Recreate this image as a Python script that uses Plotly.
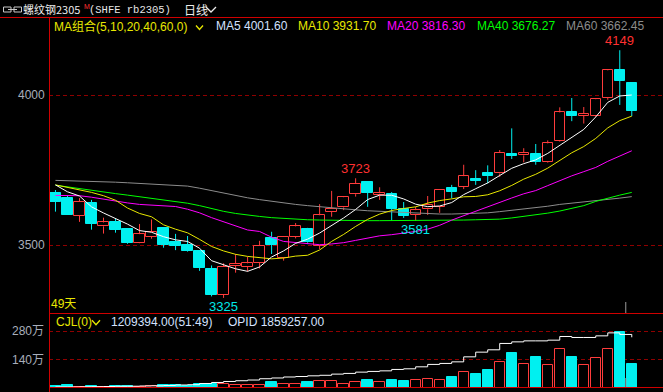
import plotly.graph_objects as go

# ---------------- data ----------------
opens  = [3675, 3657, 3598, 3641, 3563, 3577, 3554, 3509, 3529, 3557, 3511, 3501, 3481,
          3422, 3336, 3431, 3429, 3442, 3523, 3458, 3529, 3554, 3499, 3611, 3626, 3670,
          3710, 3666, 3670, 3622, 3602, 3620, 3628, 3692, 3695, 3721, 3740, 3739, 3805,
          3799, 3804, 3778, 3848, 3942, 3931, 3931, 3991, 4083, 4039]
highs  = [3684, 3664, 3657, 3651, 3592, 3588, 3556, 3571, 3586, 3560, 3538, 3531, 3484,
          3433, 3440, 3471, 3462, 3515, 3545, 3531, 3574, 3558, 3637, 3681, 3664, 3723,
          3712, 3693, 3677, 3644, 3628, 3664, 3686, 3701, 3768, 3750, 3766, 3817, 3889,
          3823, 3837, 3849, 3959, 3990, 3960, 3990, 4084, 4149, 4043]
lows   = [3612, 3601, 3578, 3552, 3539, 3542, 3505, 3507, 3522, 3492, 3484, 3479, 3415,
          3330, 3325, 3409, 3413, 3423, 3471, 3449, 3523, 3504, 3487, 3595, 3617, 3662,
          3628, 3651, 3582, 3591, 3581, 3601, 3608, 3656, 3687, 3701, 3706, 3728, 3787,
          3776, 3768, 3775, 3845, 3913, 3905, 3928, 3984, 3967, 3930]
closes = [3644, 3602, 3644, 3572, 3576, 3551, 3509, 3537, 3544, 3502, 3499, 3482, 3425,
          3336, 3428, 3438, 3440, 3498, 3502, 3529, 3563, 3510, 3600, 3622, 3660, 3704,
          3675, 3673, 3621, 3598, 3617, 3634, 3684, 3678, 3730, 3715, 3731, 3807, 3798,
          3807, 3778, 3839, 3942, 3931, 3937, 3986, 4082, 4048, 3947]

# volume (万手) and open interest (万手, own scale)
volume = [8, 13, 6, 11, 7, 8, 11, 7, 8, 14, 14, 11, 19, 19, 22, 17, 17, 17, 29, 22, 22, 29, 36,
          35.6, 20.8, 30.7, 42, 30.7, 42, 37, 40.6, 45.5, 40.6, 56.9, 80, 71.7, 86.6, 129.6,
          175.6, 119.7, 155.8, 114.8, 194, 155.8, 114.8, 149.4, 194, 274.6, 120.94]
open_interest = [100.9, 100.9, 101.2, 101.4, 101.7, 102.1, 102.2, 102.6, 102.9, 103.4, 104.3,
                 104.8, 106.8, 108.6, 110.3, 111.6, 112.8, 115.0, 116.3, 118.0, 118.8, 120.0,
                 120.9, 122.9, 124.1, 126.3, 127.5, 128.5, 130.9, 132.0, 135.4, 139.5, 141.2,
                 143.9, 152.5, 160.5, 164.5, 175.4, 178.1, 179.8, 179.8, 181.0, 187.3, 185.6,
                 185.6, 188.4, 193.5, 190.8, 185.93]

# moving-average values before enough bars exist in this window
ma5_head  = [3701, 3678, 3664, 3628]
ma10_head = [3701, 3693, 3686, 3676, 3665, 3650, 3624, 3606, 3595]
ma20_head = [3666, 3666, 3665, 3660, 3653, 3647, 3641, 3636, 3634, 3631, 3629, 3620, 3608,
             3592, 3578, 3565, 3551, 3546, 3527]
ma40 = [3700, 3694, 3689, 3684, 3678, 3672, 3667, 3662, 3657, 3652, 3646, 3640, 3632, 3622,
        3613, 3606, 3600, 3596, 3592, 3589, 3587, 3585, 3584, 3583, 3582, 3582, 3582, 3582,
        3582, 3582, 3582, 3582, 3583, 3583, 3584, 3585, 3586, 3587, 3591, 3596, 3602, 3607,
        3614, 3622, 3632, 3646, 3657, 3667, 3676]
ma60 = [3716, 3715, 3715, 3714, 3712, 3710, 3708, 3706, 3705, 3703, 3700, 3697, 3690, 3682,
        3674, 3665, 3658, 3652, 3646, 3641, 3636, 3632, 3628, 3624, 3620, 3618, 3615, 3613,
        3611, 3609, 3607, 3605, 3604, 3604, 3605, 3606, 3608, 3612, 3616, 3620, 3626, 3630,
        3636, 3640, 3643, 3647, 3651, 3657, 3662]

ma_legend = [("MA5", "4001.60", "#d4e2ff"), ("MA10", "3931.70", "#e8e800"),
             ("MA20", "3816.30", "#ff00ff"), ("MA40", "3676.27", "#00ff00"),
             ("MA60", "3662.45", "#8c8c8c")]
label_high_idx = [25, 47]
label_low_idx = [14, 30]
price_ticks = [3500, 4000]
vol_ticks = [140, 280]
vol_tick_text = ["140万", "280万"]
n_days = len(closes)

# ---------------- helpers ----------------
def moving(head, n):
    out = list(head)
    for i in range(len(head), len(closes)):
        out.append(sum(closes[i - n + 1:i + 1]) / n)
    return out

ma5 = moving(ma5_head, 5)
ma10 = moving(ma10_head, 10)
ma20 = moving(ma20_head, 20)

W, H = 663, 392
L, T, B = 49, 17, 4
PW, PH = W - L, H - T - B
def px(x):
    return (x - L) / PW
def py(y):
    return (H - B - y) / PH

RED = "#ff3c3c"
CYAN = "#00f0f0"
BORDER = "#d00000"
GRID = "#8f0000"

idx = list(range(n_days))
up = [c >= o for o, c in zip(opens, closes)]

fig = go.Figure()

# wicks (split so that hollow bodies stay hollow)
for flag, col in ((True, RED), (False, CYAN)):
    xs, ys = [], []
    for i in idx:
        if up[i] != flag:
            continue
        top, bot = max(opens[i], closes[i]), min(opens[i], closes[i])
        xs += [i, i, None, i, i, None]
        ys += [highs[i], top, None, bot, lows[i], None]
    fig.add_trace(go.Scatter(x=xs, y=ys, mode="lines", line=dict(color=col, width=1),
                             hoverinfo="skip", showlegend=False))

# bodies
for flag, fill, col in ((True, "#000000", RED), (False, CYAN, CYAN)):
    xi = [i for i in idx if up[i] == flag]
    fig.add_trace(go.Bar(
        x=xi,
        base=[min(opens[i], closes[i]) for i in xi],
        y=[max(abs(closes[i] - opens[i]), 0.8) for i in xi],
        width=0.86, marker=dict(color=fill, line=dict(color=col, width=1)),
        showlegend=False, hoverinfo="skip"))

# moving averages
for vals, col in ((ma60, "#8c8c8c"), (ma40, "#00ff00"), (ma20, "#ff00ff"),
                  (ma10, "#e8e800"), (ma5, "#ffffff")):
    fig.add_trace(go.Scatter(x=idx, y=vals, mode="lines", line=dict(color=col, width=1),
                             showlegend=False, hoverinfo="skip"))

# volume bars
for flag, fill, col in ((True, "#000000", RED), (False, CYAN, CYAN)):
    xi = [i for i in idx if up[i] == flag]
    fig.add_trace(go.Bar(x=xi, y=[volume[i] for i in xi], yaxis="y2", width=0.86,
                         marker=dict(color=fill, line=dict(color=col, width=1)),
                         showlegend=False, hoverinfo="skip"))

# open interest line
fig.add_trace(go.Scatter(x=idx, y=open_interest, yaxis="y3", mode="lines",
                         line=dict(color="#ffffff", width=1, shape="hv"),
                         showlegend=False, hoverinfo="skip"))

split = py(313)
fig.update_layout(
    width=W, height=H, margin=dict(l=L, r=0, t=T, b=B),
    paper_bgcolor="#000000", plot_bgcolor="#000000",
    barmode="overlay", bargap=0,
    xaxis=dict(range=[-0.54, 50.6], showticklabels=False, showgrid=False,
               zeroline=False, ticks="", showline=False, fixedrange=True),
    yaxis=dict(domain=[split, 1], range=[3274.8, 4259.5], tickvals=price_ticks,
               showticklabels=False, showgrid=True, gridcolor=GRID, gridwidth=1,
               griddash="4px,3px", zeroline=False, ticks="", showline=False),
    yaxis2=dict(domain=[0, split], range=[0, 371], tickvals=vol_ticks,
                showticklabels=False, showgrid=True, gridcolor=GRID, gridwidth=1,
                griddash="4px,3px", zeroline=False, ticks="", showline=False),
    yaxis3=dict(overlaying="y2", range=[99.15, 227.5], showticklabels=False,
                showgrid=False, zeroline=False, ticks=""),
)

ann = []
LAT = "Liberation Sans, Noto Sans CJK SC"
CJK = "Noto Sans CJK SC"

def text(x, y, s, color, size=12, family=LAT, anchor="left"):
    ann.append(dict(xref="paper", yref="paper", x=px(x), y=py(y), text=s, showarrow=False,
                    xanchor=anchor, yanchor="middle", font=dict(color=color, size=size, family=family)))

# header
text(21, 9.5, "螺纹钢2305", "#ececec", 11, CJK)
text(82, 6, "M", "#ff3030", 7, LAT)
text(87, 10, "(SHFE rb2305)", "#e6e6e6", 10.5, "Liberation Mono")
text(182, 9, "日线", "#ececec", 12, CJK)

# MA legend
text(52, 26.5, "MA组合(5,10,20,40,60,0)", "#e8e800", 12, LAT)
for (name, val, col), x0 in zip(ma_legend, [214, 296, 385, 475, 564]):
    text(x0, 26.5, f"{name} {val}", col, 12, LAT)

# volume header
text(54, 321.5, "CJL(0)", "#e8e800", 12, LAT)
text(109, 321.5, "1209394.00(51:49)", "#d4e2ff", 12, LAT)
text(226, 321.5, "OPID 1859257.00", "#d4e2ff", 12, LAT)

# bars count
text(49, 304, f"{n_days}天", "#e8e800", 12, LAT)

# axis labels
for v in price_ticks:
    ann.append(dict(xref="paper", yref="y", x=0, y=v, text=str(v), showarrow=False,
                    xanchor="right", yanchor="middle", xshift=-2,
                    font=dict(color="#a8aebb", size=12, family=LAT)))
for v, s in zip(vol_ticks, vol_tick_text):
    ann.append(dict(xref="paper", yref="y2", x=0, y=v, text=s, showarrow=False,
                    xanchor="right", yanchor="middle", xshift=-3,
                    font=dict(color="#a8aebb", size=12, family=LAT)))

# extreme labels
for i in label_high_idx:
    ann.append(dict(xref="x", yref="y", x=i, y=highs[i], text=str(highs[i]), showarrow=False,
                    xanchor="center", yanchor="bottom", yshift=0,
                    font=dict(color="#ff3030", size=13, family=LAT)))
for i in label_low_idx:
    ann.append(dict(xref="x", yref="y", x=i, y=lows[i], text=str(lows[i]), showarrow=False,
                    xanchor="center", yanchor="top", yshift=1,
                    font=dict(color="#00e8e8", size=13, family=LAT)))

fig.update_layout(annotations=ann)

shapes = []
def line(x0, y0, x1, y1, color=BORDER, width=1):
    shapes.append(dict(type="line", xref="paper", yref="paper", x0=px(x0), y0=py(y0),
                       x1=px(x1), y1=py(y1), line=dict(color=color, width=width)))

def chevron(cx, cy, w, h, color):
    shapes.append(dict(type="path", xref="paper", yref="paper",
                       path=f"M {px(cx - w / 2)} {py(cy - h / 2)} L {px(cx)} {py(cy + h / 2)} L {px(cx + w / 2)} {py(cy - h / 2)}",
                       line=dict(color=color, width=1.3)))

line(0, 17.5, W, 17.5)
line(49.5, 17.5, 49.5, H)
line(49.5, 313.5, W, 313.5)
line(49.5, 387.5, W, 387.5)

chevron(211, 9.5, 10, 5, "#ececec")
chevron(199.5, 27.5, 7, 4, "#e8e800")
chevron(96, 322.5, 8, 4.5, "#e8e800")

# link icon
shapes.append(dict(type="rect", xref="paper", yref="paper", x0=px(3.5), x1=px(11), y0=py(12), y1=py(7),
                   line=dict(color="#c8c8c8", width=1)))
shapes.append(dict(type="rect", xref="paper", yref="paper", x0=px(14), x1=px(21.5), y0=py(12), y1=py(7),
                   line=dict(color="#c8c8c8", width=1)))
line(8, 9.5, 17, 9.5, "#c8c8c8")

# cursor marks
shapes.append(dict(type="line", xref="x", yref="paper", x0=47.5, x1=47.5, y0=py(313), y1=py(302),
                   line=dict(color="#9a9a9a", width=1)))
shapes.append(dict(type="line", xref="x", yref="paper", x0=47.5, x1=47.5, y0=py(387), y1=py(378),
                   line=dict(color="#9a9a9a", width=1)))

fig.update_layout(shapes=shapes)
fig.write_html("out.html", config={"displayModeBar": False},
               post_script="document.body.style.margin='0px';document.body.style.overflow='hidden';")
